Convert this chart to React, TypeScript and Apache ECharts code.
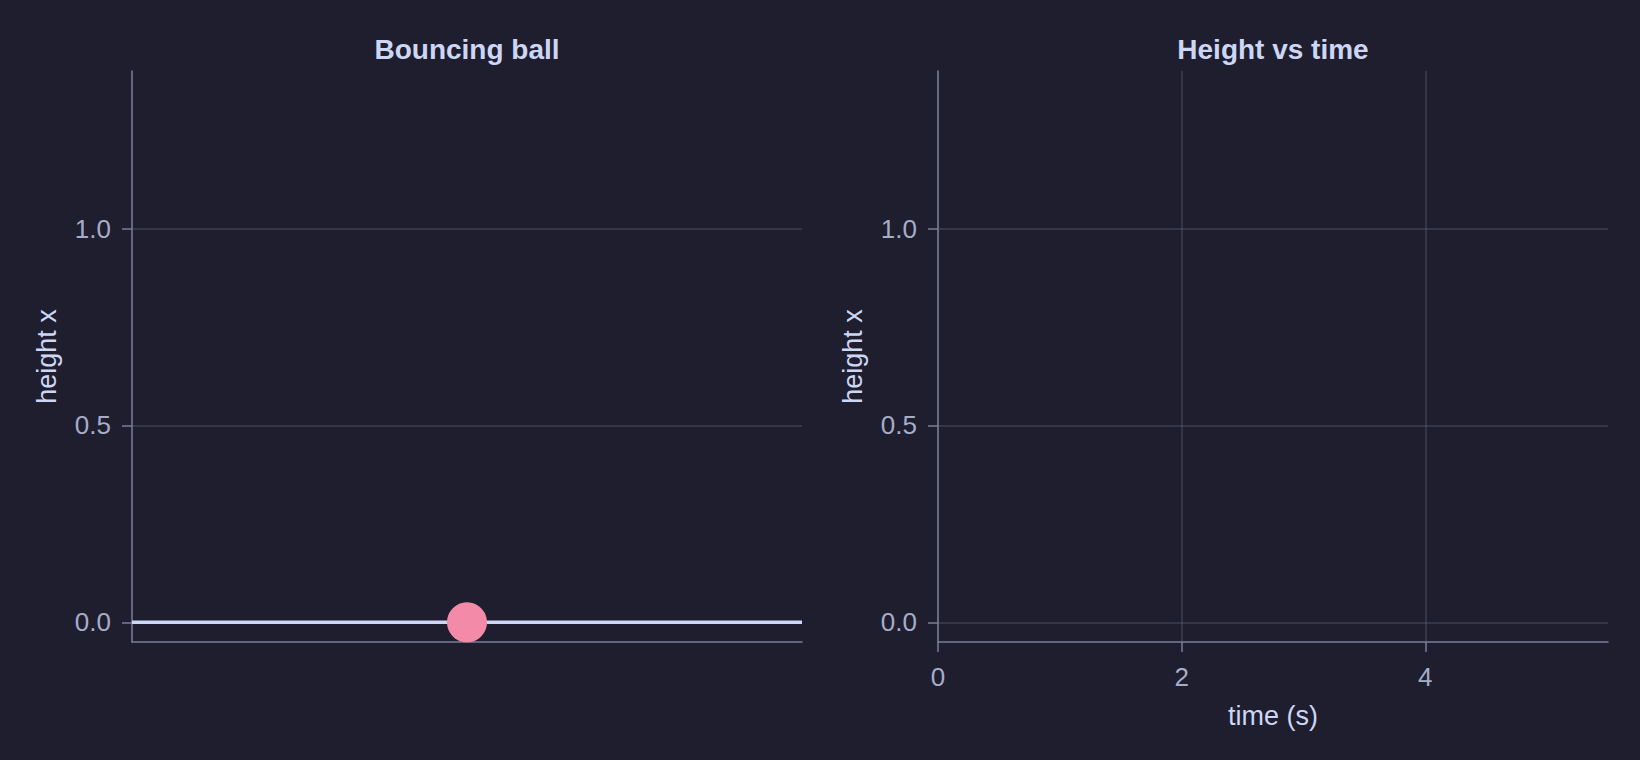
import React, { useEffect, useRef } from 'react';
import * as echarts from 'echarts';

// left panel: the floor line and the ball
const floorX = [-1, 1];
const floorY = [0, 0];
const ballX = [0];
const ballY = [0];

// right panel: height trace (empty at t = 0)
const traceT: number[] = [];
const traceH: number[] = [];

const yTicks = [0, 0.5, 1.0];
const tTicks = [0, 2, 4];

const BG = '#1e1e2e';
const TEXT = '#cdd6f4';
const SUBTEXT = '#a6adc8';
const AXIS = '#7a7e98';
const GRID = 'rgba(108,112,134,0.4)';
const FONT = '"Liberation Sans", Arial, sans-serif';

const yAxisBase = (gridIndex: number) => ({
  type: 'value' as const,
  gridIndex,
  min: -0.05,
  max: 1.4,
  name: 'height x',
  nameLocation: 'middle' as const,
  nameRotate: 90,
  nameGap: 72,
  nameTextStyle: { color: TEXT, fontSize: 27, fontFamily: FONT },
  axisLine: { show: true, onZero: false, lineStyle: { color: AXIS, width: 1.5 } },
  axisTick: { show: true, length: 10, customValues: yTicks, lineStyle: { color: AXIS, width: 1.5 } },
  axisLabel: {
    customValues: yTicks,
    margin: 21,
    color: SUBTEXT,
    fontSize: 26,
    fontFamily: FONT,
    formatter: (v: number) => v.toFixed(1),
  },
  splitLine: { show: true, lineStyle: { color: GRID, width: 1.5 } },
});

export default function App() {
  const chartRef = useRef<HTMLDivElement>(null);

  useEffect(() => {
    if (!chartRef.current) return;
    document.body.style.margin = '0';
    document.body.style.background = BG;
    const chart = echarts.init(chartRef.current, null, { renderer: 'svg' });

    const option: echarts.EChartsOption = {
      animation: false,
      backgroundColor: BG,
      graphic: [
        {
          type: 'text',
          x: 467,
          y: 49,
          style: {
            text: 'Bouncing ball',
            fill: TEXT,
            font: `bold 28px ${FONT}`,
            textAlign: 'center',
            textVerticalAlign: 'middle',
          },
        },
        {
          type: 'text',
          x: 1273,
          y: 49,
          style: {
            text: 'Height vs time',
            fill: TEXT,
            font: `bold 28px ${FONT}`,
            textAlign: 'center',
            textVerticalAlign: 'middle',
          },
        },
      ],
      grid: [
        { left: 132, top: 71, width: 670, height: 571 },
        { left: 938, top: 71, width: 670, height: 571 },
      ],
      xAxis: [
        {
          type: 'value',
          gridIndex: 0,
          min: -1,
          max: 1,
          axisLine: { show: true, onZero: false, lineStyle: { color: AXIS, width: 1.5 } },
          axisTick: { show: false },
          axisLabel: { show: false },
          splitLine: { show: false },
        },
        {
          type: 'value',
          gridIndex: 1,
          min: 0,
          max: 5.5,
          name: 'time (s)',
          nameLocation: 'middle',
          nameGap: 60,
          nameTextStyle: { color: TEXT, fontSize: 27, fontFamily: FONT },
          axisLine: { show: true, onZero: false, lineStyle: { color: AXIS, width: 1.5 } },
          axisTick: { show: true, length: 10, customValues: tTicks, lineStyle: { color: AXIS, width: 1.5 } },
          axisLabel: {
            customValues: tTicks,
            margin: 22,
            color: SUBTEXT,
            fontSize: 26,
            fontFamily: FONT,
          },
          splitLine: { show: true, lineStyle: { color: GRID, width: 1.5 } },
        },
      ],
      yAxis: [yAxisBase(0), yAxisBase(1)],
      series: [
        {
          type: 'line',
          xAxisIndex: 0,
          yAxisIndex: 0,
          data: floorX.map((x, i) => [x, floorY[i]]),
          symbol: 'none',
          lineStyle: { color: TEXT, width: 3.5 },
          z: 3,
        },
        {
          type: 'scatter',
          xAxisIndex: 0,
          yAxisIndex: 0,
          data: ballX.map((x, i) => [x, ballY[i]]),
          symbol: 'circle',
          symbolSize: 40,
          itemStyle: { color: '#f38ba8', opacity: 1 },
          z: 4,
        },
        {
          type: 'line',
          xAxisIndex: 1,
          yAxisIndex: 1,
          data: traceT.map((t, i) => [t, traceH[i]]),
          symbol: 'none',
          lineStyle: { color: '#89b4fa', width: 3 },
        },
      ],
    };

    chart.setOption(option);
    return () => {
      chart.dispose();
    };
  }, []);

  return <div ref={chartRef} style={{ width: '1640px', height: '760px' }} />;
}
